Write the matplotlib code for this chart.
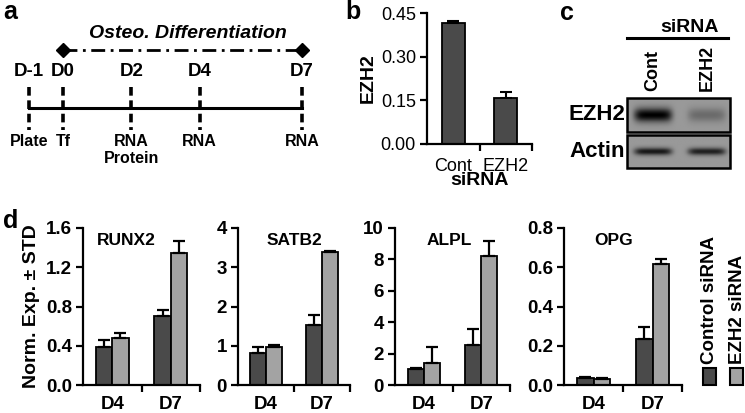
import numpy as np
import matplotlib.pyplot as plt

plt.rcParams['font.family'] = ['Liberation Sans', 'DejaVu Sans']

W, H = 745, 413

# panel a: timeline
days = [-1, 0, 2, 4, 7]
day_labels = ['D-1', 'D0', 'D2', 'D4', 'D7']
day_events = ['Plate', 'Tf', 'RNA\nProtein', 'RNA', 'RNA']
diff_days = [0, 7]

# panel b: EZH2 knockdown
kd_groups = ['Cont', 'EZH2']
ezh2_level = [0.415, 0.158]
ezh2_err = [0.006, 0.02]

# panel c: western blot band strength
blot_rows = ['EZH2', 'Actin']
blot_lanes = ['Cont', 'EZH2']
band_intensity = [[1.0, 0.3], [0.85, 0.8]]

# panel d: marker genes
genes = ['RUNX2', 'SATB2', 'ALPL', 'OPG']
timepoints = ['D4', 'D7']
ctrl_mean = [[0.39, 0.70], [0.82, 1.52], [1.0, 2.55], [0.038, 0.235]]
ctrl_std = [[0.07, 0.06], [0.14, 0.27], [0.08, 1.0], [0.004, 0.06]]
ezh2_mean = [[0.48, 1.35], [0.98, 3.38], [1.4, 8.2], [0.03, 0.615]]
ezh2_std = [[0.05, 0.12], [0.05, 0.04], [1.0, 1.0], [0.005, 0.025]]
y_max = [1.6, 4, 10, 0.8]
y_step = [0.4, 1, 2, 0.2]
y_fmt = ['{:.1f}', '{:.0f}', '{:.0f}', '{:.1f}']

dark = '#4a4a4a'
light = '#a3a3a3'

fig = plt.figure(figsize=(W / 100, H / 100), dpi=100)


def px_axes(x0, y0, x1, y1):
    return fig.add_axes([x0 / W, 1 - y1 / H, (x1 - x0) / W, (y1 - y0) / H])


def style_bar_axes(ax, labels, bold, size):
    for s in ['top', 'right']:
        ax.spines[s].set_visible(False)
    for s in ['left', 'bottom']:
        ax.spines[s].set_linewidth(1.6)
    ax.set_xlim(-0.5, 1.5)
    ax.set_xticks([0, 1])
    ax.set_xticklabels(labels, fontsize=size, fontweight='bold' if bold else 'normal')
    ax.set_xticks([0.5, 1.5], minor=True)
    ax.tick_params(axis='x', which='major', length=0, pad=9)
    ax.tick_params(axis='x', which='minor', length=5, width=1.6, direction='out')
    ax.tick_params(axis='y', length=5, width=1.6, direction='out', pad=3)


def fig_text(x, y, s, **kw):
    fig.text(x / W, 1 - y / H, s, **kw)


# ---- panel a ----
axa = px_axes(0, 0, 330, 190)
axa.set_xlim(-1.849, 7.821)
axa.set_ylim(190, 0)
axa.axis('off')
axa.plot(diff_days, [50, 50], color='black', lw=2, ls=(0, (5, 2, 1, 2)),
         marker='D', markersize=7)
axa.text(3.66, 34, 'Osteo. Differentiation', ha='center', va='center',
         fontsize=14, fontweight='bold', style='italic')
axa.plot([days[0], days[-1]], [108, 108], color='black', lw=2.2)
for d, lab, ev in zip(days, day_labels, day_events):
    axa.plot([d, d], [87, 130], color='black', lw=2.6, ls=(0, (2.4, 1.3)))
    axa.text(d, 71, lab, ha='center', va='center', fontsize=13.5, fontweight='bold')
    axa.text(d, 134, ev, ha='center', va='top', fontsize=11.5, fontweight='bold',
             linespacing=1.2)
fig_text(3, 12, 'a', fontsize=18, fontweight='bold', va='center')

# ---- panel b ----
axb = px_axes(427, 13, 532, 144)
axb.bar(np.arange(2), ezh2_level, 0.43, color=dark, edgecolor='black', lw=1.3,
        yerr=[[0, 0], ezh2_err], capsize=4, error_kw=dict(elinewidth=1.5, capthick=1.5))
axb.set_ylim(0, 0.45)
axb.set_yticks([0, 0.15, 0.30, 0.45])
axb.set_yticklabels(['{:.2f}'.format(v) for v in [0, 0.15, 0.30, 0.45]], fontsize=13)
style_bar_axes(axb, kd_groups, bold=False, size=13)
axb.tick_params(axis='x', which='major', pad=10)
axb.set_xlabel('siRNA', fontsize=14, fontweight='bold', labelpad=-2)
axb.set_ylabel('EZH2', fontsize=14, fontweight='bold', labelpad=3)
fig_text(345, 12, 'b', fontsize=18, fontweight='bold', va='center')

# ---- panel c ----
axc = px_axes(480, 0, 745, 190)
axc.set_xlim(480, 745)
axc.set_ylim(190, 0)
axc.axis('off')
box_x = (627, 730)
box_y = [(98, 132), (135, 168)]
lane_x = [653, 707]
xs = np.linspace(box_x[0], box_x[1], 120)
for r, row in enumerate(blot_rows):
    y0, y1 = box_y[r]
    ys = np.linspace(y0, y1, 40)
    X, Y = np.meshgrid(xs, ys)
    img = np.full(X.shape, 0.6)
    thick = 7.0 if r == 0 else 3.8
    for li, lx in enumerate(lane_x):
        amp = band_intensity[r][li]
        prof = np.exp(-((X - lx) / 19.0) ** 6) * np.exp(-((Y - (y0 + y1) / 2) / thick) ** 2)
        img -= 0.6 * amp * prof
    axc.imshow(np.clip(img, 0, 1), cmap='gray', vmin=0, vmax=1,
               extent=[box_x[0], box_x[1], y1, y0], aspect='auto', interpolation='bilinear')
    axc.add_patch(plt.Rectangle((box_x[0], y0), box_x[1] - box_x[0], y1 - y0, fill=False,
                                edgecolor='black', lw=1.8))
    axc.text(box_x[0] - 2, (y0 + y1) / 2, row, ha='right', va='center', fontsize=16,
             fontweight='bold')
for lx, lane in zip(lane_x, blot_lanes):
    axc.text(lx, 91, lane, rotation=90, ha='center', va='bottom', fontsize=13,
             fontweight='bold')
axc.plot([box_x[0], box_x[1] - 2], [38, 38], color='black', lw=2.2)
axc.text(690, 27, 'siRNA', ha='center', va='center', fontsize=14, fontweight='bold')
axc.set_xlim(480, 745)
axc.set_ylim(190, 0)
fig_text(560, 13, 'c', fontsize=18, fontweight='bold', va='center')

# ---- panel d ----
d_bounds = [(83, 200), (238, 350), (395, 510), (564, 682)]
title_x = [0.37, 0.5, 0.47, 0.42]
for i, g in enumerate(genes):
    x0, x1 = d_bounds[i]
    ax = px_axes(x0, 228, x1, 385)
    x = np.arange(len(timepoints))
    ekw = dict(elinewidth=1.6, capthick=1.6)
    ax.bar(x - 0.14, ctrl_mean[i], 0.28, color=dark, edgecolor='black', lw=1.3,
           yerr=[[0, 0], ctrl_std[i]], capsize=4, error_kw=ekw)
    ax.bar(x + 0.14, ezh2_mean[i], 0.28, color=light, edgecolor='black', lw=1.3,
           yerr=[[0, 0], ezh2_std[i]], capsize=4, error_kw=ekw)
    ax.set_ylim(0, y_max[i])
    ticks = np.arange(0, y_max[i] + y_step[i] / 2, y_step[i])
    ax.set_yticks(ticks)
    ax.set_yticklabels([y_fmt[i].format(t) for t in ticks], fontsize=13.5, fontweight='bold')
    style_bar_axes(ax, timepoints, bold=True, size=13.5)
    ax.tick_params(axis='x', which='major', pad=8)
    ax.text(title_x[i], 0.92, g, transform=ax.transAxes, ha='center', va='center',
            fontsize=12.5, fontweight='bold')
    if i == 0:
        ax.set_ylabel('Norm. Exp. \u00b1 STD', fontsize=14, fontweight='bold', labelpad=4)
fig_text(3, 221, 'd', fontsize=18, fontweight='bold', va='center')

# legend (rotated)
for lx, col, lab in [(703, dark, 'Control siRNA'), (730, light, 'EZH2 siRNA')]:
    fig.patches.append(plt.Rectangle((lx / W, 1 - 385 / H), 13 / W, 17 / H, facecolor=col,
                                     edgecolor='black', lw=1.5, transform=fig.transFigure,
                                     figure=fig))
    fig_text(lx + 7, 364, lab, rotation=90, ha='center', va='bottom', fontsize=13.5,
             fontweight='bold')

fig.savefig('out.png', dpi=100)
